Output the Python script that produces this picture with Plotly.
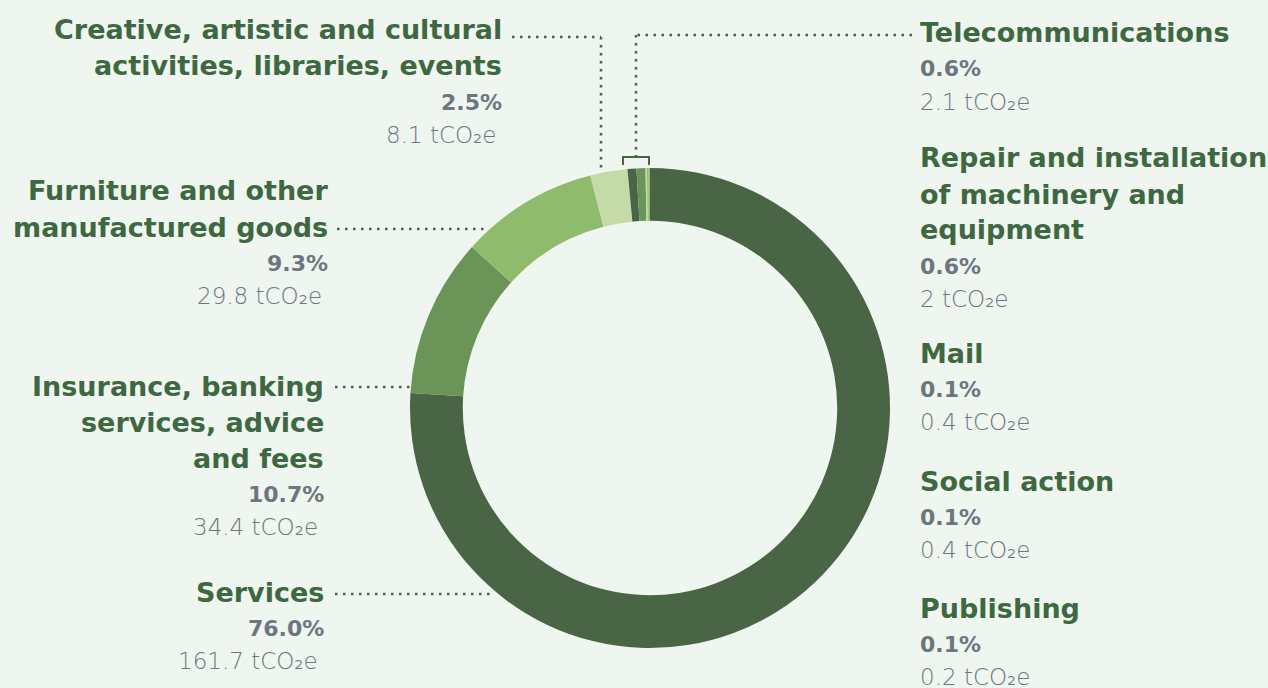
import plotly.graph_objects as go

W, H = 1268, 688

# data
categories = ["Services", "Insurance, banking services, advice and fees",
              "Furniture and other manufactured goods",
              "Creative, artistic and cultural activities, libraries, events",
              "Telecommunications", "Repair and installation of machinery and equipment",
              "Mail", "Social action", "Publishing"]
shares = [76.0, 10.7, 9.3, 2.5, 0.6, 0.6, 0.1, 0.1, 0.1]
emissions = [161.7, 34.4, 29.8, 8.1, 2.1, 2, 0.4, 0.4, 0.2]
# how the names are wrapped on the picture
label_lines = [["Services"],
               ["Insurance, banking", "services, advice", "and fees"],
               ["Furniture and other", "manufactured goods"],
               ["Creative, artistic and cultural", "activities, libraries, events"],
               ["Telecommunications"],
               ["Repair and installation", "of machinery and", "equipment"],
               ["Mail"], ["Social action"], ["Publishing"]]

DARK, MID, LIGHT, PALE = "#4a6545", "#6b9459", "#8fbb6c", "#c5dba7"
slice_colors = [DARK, MID, LIGHT, PALE, DARK, MID, PALE, LIGHT, LIGHT]
BG = "#eff5ef"
GREEN_TXT = "#3e6841"
GRAY_TXT = "#6d7680"

# label block placement: (anchor x px, side, first line y px)
blocks = [(326, "right", 592), (326, "right", 386), (330, "right", 191), (504, "right", 30),
          (918, "left", 33), (918, "left", 158), (918, "left", 353), (918, "left", 481),
          (918, "left", 608)]


def px(x):
    return x / W


def py(y):
    return 1 - y / H


fig = go.Figure()
fig.add_trace(go.Pie(
    labels=categories, values=shares, hole=0.78, sort=False,
    direction="clockwise", rotation=0, textinfo="none",
    marker=dict(colors=slice_colors, line=dict(width=0)),
    showlegend=False, hoverinfo="label+percent",
    domain=dict(x=[px(410), px(890)], y=[py(648), py(168)]),
))

ann = []
for lines, pct, val, (x, side, y0) in zip(label_lines, shares, emissions, blocks):
    y = y0
    for ln in lines:
        ann.append(dict(x=px(x), y=py(y), text="<b>%s</b>" % ln, xanchor=side,
                        font=dict(family="DejaVu Sans", size=27, color=GREEN_TXT)))
        y += 36
    ann.append(dict(x=px(x), y=py(y), text="<b>%.1f%%</b>" % pct, xanchor=side,
                    font=dict(family="DejaVu Sans", size=22, color=GRAY_TXT)))
    y += 33
    ann.append(dict(x=px(x - 6 if side == "right" else x), y=py(y),
                    text="%g tCO₂e" % val, xanchor=side,
                    font=dict(family="DejaVu Sans", size=23, color=GRAY_TXT, weight=300)))
for a in ann:
    a.update(xref="paper", yref="paper", yanchor="middle", showarrow=False)

dot = dict(color=DARK, width=2.5, dash="2.5px,5.5px")
shapes = []
leaders = [[(512, 37), (601, 37), (601, 170)],
           [(912, 35), (636, 35), (636, 156)],
           [(337, 229), (486, 229)],
           [(335, 387), (410, 387)],
           [(335, 594), (490, 594)]]
for pts in leaders:
    for (x1, y1), (x2, y2) in zip(pts[:-1], pts[1:]):
        shapes.append(dict(type="line", xref="paper", yref="paper",
                           x0=px(x1), y0=py(y1), x1=px(x2), y1=py(y2), line=dot))
# bracket over the tiny slices
shapes.append(dict(type="path", xref="paper", yref="paper",
                   path="M %f %f L %f %f L %f %f L %f %f" % (
                       px(623), py(165), px(623), py(157), px(649), py(157), px(649), py(165)),
                   line=dict(color=DARK, width=2)))

fig.update_layout(width=W, height=H, margin=dict(l=0, r=0, t=0, b=0),
                  paper_bgcolor=BG, plot_bgcolor=BG,
                  annotations=ann, shapes=shapes)
fig.write_html("out.html", config={"displayModeBar": False},
               post_script="document.body.style.margin='0';document.body.style.overflow='hidden';")
